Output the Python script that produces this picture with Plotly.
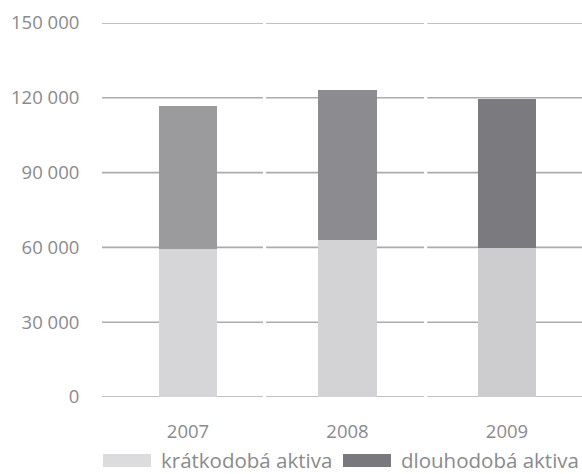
import plotly.graph_objects as go

# Balance-sheet assets by year (CZK thousands)
years = ["2007", "2008", "2009"]
short_term = [59400, 63000, 59900]   # krátkodobá aktiva
long_term = [57300, 60100, 59600]    # dlouhodobá aktiva
y_ticks = [0, 30000, 60000, 90000, 120000, 150000]
y_tick_labels = ["0", "30 000", "60 000", "90 000", "120 000", "150 000"]
series_names = ["krátkodobá aktiva", "dlouhodobá aktiva"]

short_colors = ["#d6d6d8", "#d3d3d5", "#cdcdcf"]
long_colors = ["#9b9a9d", "#8c8b8f", "#7b7a7e"]
legend_colors = ["#dcdcde", "#79787c"]
text_color = "#8a8a8c"
grid_color = "#ababab"

W, H = 582, 474
L, R, T, B = 102, 0, 23, 77
plot_w = W - L - R
plot_h = H - T - B

x_pos = list(range(len(years)))
x_range = [-0.539, 2.47]

fig = go.Figure()
fig.add_trace(go.Bar(x=x_pos, y=short_term, name=series_names[0],
                     marker=dict(color=short_colors, line=dict(width=0)),
                     width=0.364))
fig.add_trace(go.Bar(x=x_pos, y=long_term, name=series_names[1],
                     marker=dict(color=long_colors, line=dict(width=0)),
                     width=0.364))

# horizontal gridlines split into segments, one per category slot
segments = [(x_range[0], 0.47), (0.49, 1.48), (1.50, x_range[1])]
shapes = []
for yv in y_ticks:
    for x0, x1 in segments:
        shapes.append(dict(type="line", xref="x", yref="y", x0=x0, x1=x1,
                           y0=yv, y1=yv, layer="below",
                           line=dict(color=grid_color, width=1.6)))

# custom legend swatches below the axis
def px_x(p):
    return (p - L) / plot_w

def px_y(p):
    return (H - B - p) / plot_h

annotations = []
legend_items = [(103, 151, 159), (343, 391, 399)]
for (sx0, sx1, tx), name, col in zip(legend_items, series_names, legend_colors):
    shapes.append(dict(type="rect", xref="paper", yref="paper",
                       x0=px_x(sx0), x1=px_x(sx1), y0=px_y(467), y1=px_y(454),
                       fillcolor=col, line=dict(width=0)))
    annotations.append(dict(xref="paper", yref="paper", x=px_x(tx), y=px_y(460),
                            xanchor="left", yanchor="middle", showarrow=False,
                            text=name, font=dict(size=20.5, color=text_color,
                                                 family="Open Sans")))

fig.update_layout(
    width=W, height=H,
    margin=dict(l=L, r=R, t=T, b=B),
    barmode="stack",
    bargap=0,
    showlegend=False,
    plot_bgcolor="white",
    paper_bgcolor="white",
    font=dict(family="Open Sans", color=text_color, size=18.5),
    shapes=shapes,
    annotations=annotations,
    xaxis=dict(range=x_range, tickmode="array", tickvals=x_pos, ticktext=years,
               showgrid=False, zeroline=False, showline=False,
               ticks="outside", ticklen=18, tickcolor="rgba(0,0,0,0)",
               tickfont=dict(size=18.5, color=text_color)),
    yaxis=dict(range=[0, 150000], tickmode="array", tickvals=y_ticks,
               ticktext=y_tick_labels, showgrid=False, zeroline=False,
               showline=False, ticks="outside", ticklen=18,
               tickcolor="rgba(0,0,0,0)",
               tickfont=dict(size=18.5, color=text_color)),
)

fig.write_html("out.html")
